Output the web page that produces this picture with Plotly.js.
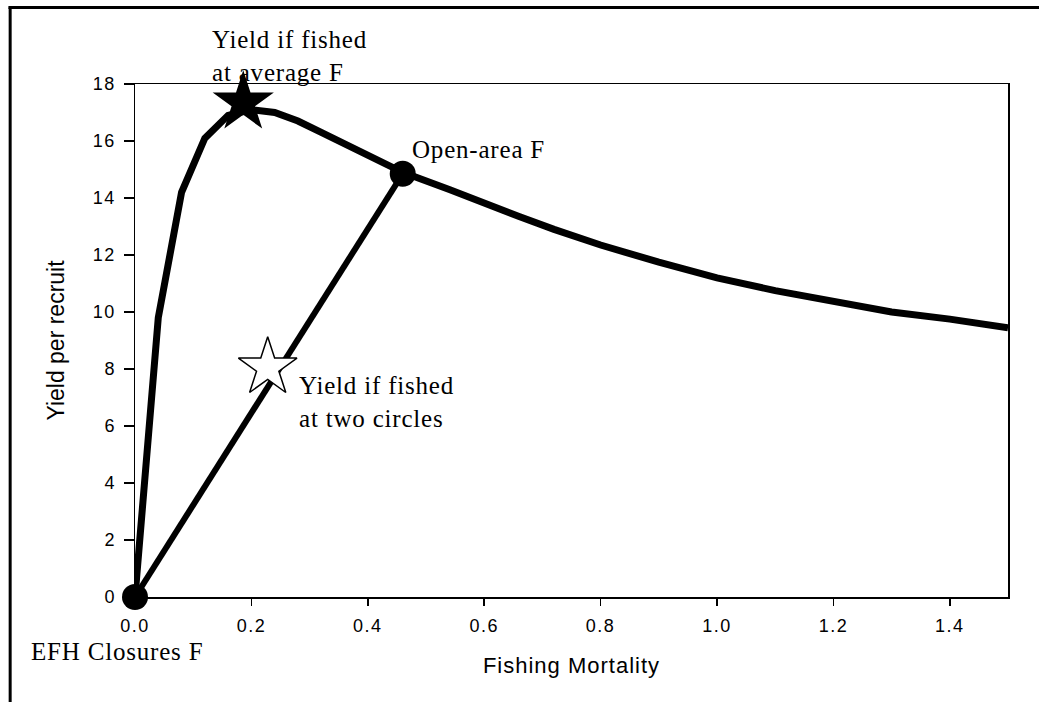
<!DOCTYPE html>
<html>
<head>
<meta charset="utf-8">
<script src="https://cdn.plot.ly/plotly-3.0.1.min.js"></script>
<style>
html,body{margin:0;padding:0;background:#fff;}
#chart{width:1039px;height:702px;}
#chart .annotation-text{letter-spacing:0.8px;}
#chart .xtick text,#chart .ytick text{letter-spacing:1.5px;}
#chart .xtitle{letter-spacing:1px;}
</style>
</head>
<body>
<div id="chart"></div>
<script>
// Yield-per-recruit curve
const curveF = [0, 0.04, 0.08, 0.12, 0.16, 0.2, 0.24, 0.28, 0.32, 0.37, 0.42, 0.46, 0.54, 0.6, 0.66, 0.72, 0.8, 0.9, 1.0, 1.1, 1.2, 1.3, 1.4, 1.5];
const curveY = [0, 9.8, 14.2, 16.1, 16.9, 17.1, 17.0, 16.7, 16.3, 15.8, 15.3, 14.9, 14.3, 13.8, 13.35, 12.9, 12.35, 11.75, 11.2, 10.75, 10.35, 10.0, 9.75, 9.45];
// Straight line joining the two circles
const lineF = [0, 0.46];
const lineY = [0, 14.85];
// Circle markers
const circleF = [0, 0.46];
const circleY = [0, 14.85];
// Star markers
const avgStarF = [0.186];
const avgStarY = [17.35];
const twoStarF = [0.228];
const twoStarY = [8.05];
// Axis ticks
const xTickVals = [0, 0.2, 0.4, 0.6, 0.8, 1.0, 1.2, 1.4];
const xTickText = ["0.0", "0.2", "0.4", "0.6", "0.8", "1.0", "1.2", "1.4"];
const yTickVals = [0, 2, 4, 6, 8, 10, 12, 14, 16, 18];

const traces = [
  {x: curveF, y: curveY, mode: 'lines', line: {color: '#000', width: 7}, hoverinfo: 'skip'},
  {x: lineF, y: lineY, mode: 'lines', line: {color: '#000', width: 6}, hoverinfo: 'skip'},
  {x: circleF, y: circleY, mode: 'markers', marker: {color: '#000', size: 26, symbol: 'circle'}, cliponaxis: false},
  {x: avgStarF, y: avgStarY, mode: 'markers', marker: {color: '#000', size: 46, symbol: 'star'}, cliponaxis: false},
  {x: twoStarF, y: twoStarY, mode: 'markers', marker: {color: '#fff', size: 44, symbol: 'star', line: {color: '#000', width: 1.5}}, cliponaxis: false}
];

const serif = {family: 'Liberation Serif, Times New Roman, serif', size: 25, color: '#000'};
const sans = 'Liberation Sans, Arial, sans-serif';

const layout = {
  width: 1039, height: 702,
  margin: {l: 135, r: 31, t: 84, b: 105},
  paper_bgcolor: '#fff', plot_bgcolor: '#fff',
  showlegend: false,
  xaxis: {
    range: [0, 1.5], tickvals: xTickVals, ticktext: xTickText,
    showgrid: false, zeroline: false, showline: true, mirror: true,
    linecolor: '#000', linewidth: 1.5, ticks: 'outside', ticklen: 7, tickwidth: 1.5, tickcolor: '#000',
    ticklabelstandoff: 5,
    tickfont: {family: sans, size: 18, color: '#000'},
    title: {text: 'Fishing Mortality', font: {family: sans, size: 22, color: '#000'}, standoff: 22}
  },
  yaxis: {
    range: [0, 18], tickvals: yTickVals,
    showgrid: false, zeroline: false, showline: true, mirror: true,
    linecolor: '#000', linewidth: 1.5, ticks: 'outside', ticklen: 10, tickwidth: 1.5, tickcolor: '#000',
    ticklabelstandoff: 4,
    tickfont: {family: sans, size: 18, color: '#000'},
    title: {text: 'Yield per recruit', font: {family: sans, size: 23, color: '#000'}, standoff: 25}
  },
  annotations: [
    {x: 0.086, y: 1.055, xref: 'paper', yref: 'paper', text: 'Yield if fished<br>at average F', showarrow: false, xanchor: 'left', yanchor: 'middle', align: 'left', font: serif},
    {x: 0.4725, y: 15.7, xref: 'x', yref: 'y', text: 'Open-area F', showarrow: false, xanchor: 'left', yanchor: 'middle', align: 'left', font: serif},
    {x: 0.278, y: 6.84, xref: 'x', yref: 'y', text: 'Yield if fished<br>at two circles', showarrow: false, xanchor: 'left', yanchor: 'middle', align: 'left', font: serif},
    {x: -0.121, y: -0.107, xref: 'paper', yref: 'paper', text: 'EFH Closures F', showarrow: false, xanchor: 'left', yanchor: 'middle', align: 'left', font: serif}
  ],
  shapes: [
    {type: 'line', xref: 'paper', yref: 'paper', x0: -0.145, x1: 1.04, y0: 1.149, y1: 1.149, line: {color: '#000', width: 3}},
    {type: 'line', xref: 'paper', yref: 'paper', x0: -0.143, x1: -0.143, y0: 1.149, y1: -0.21, line: {color: '#000', width: 3}}
  ]
};

Plotly.newPlot('chart', traces, layout, {displayModeBar: false, staticPlot: true});
</script>
</body>
</html>
